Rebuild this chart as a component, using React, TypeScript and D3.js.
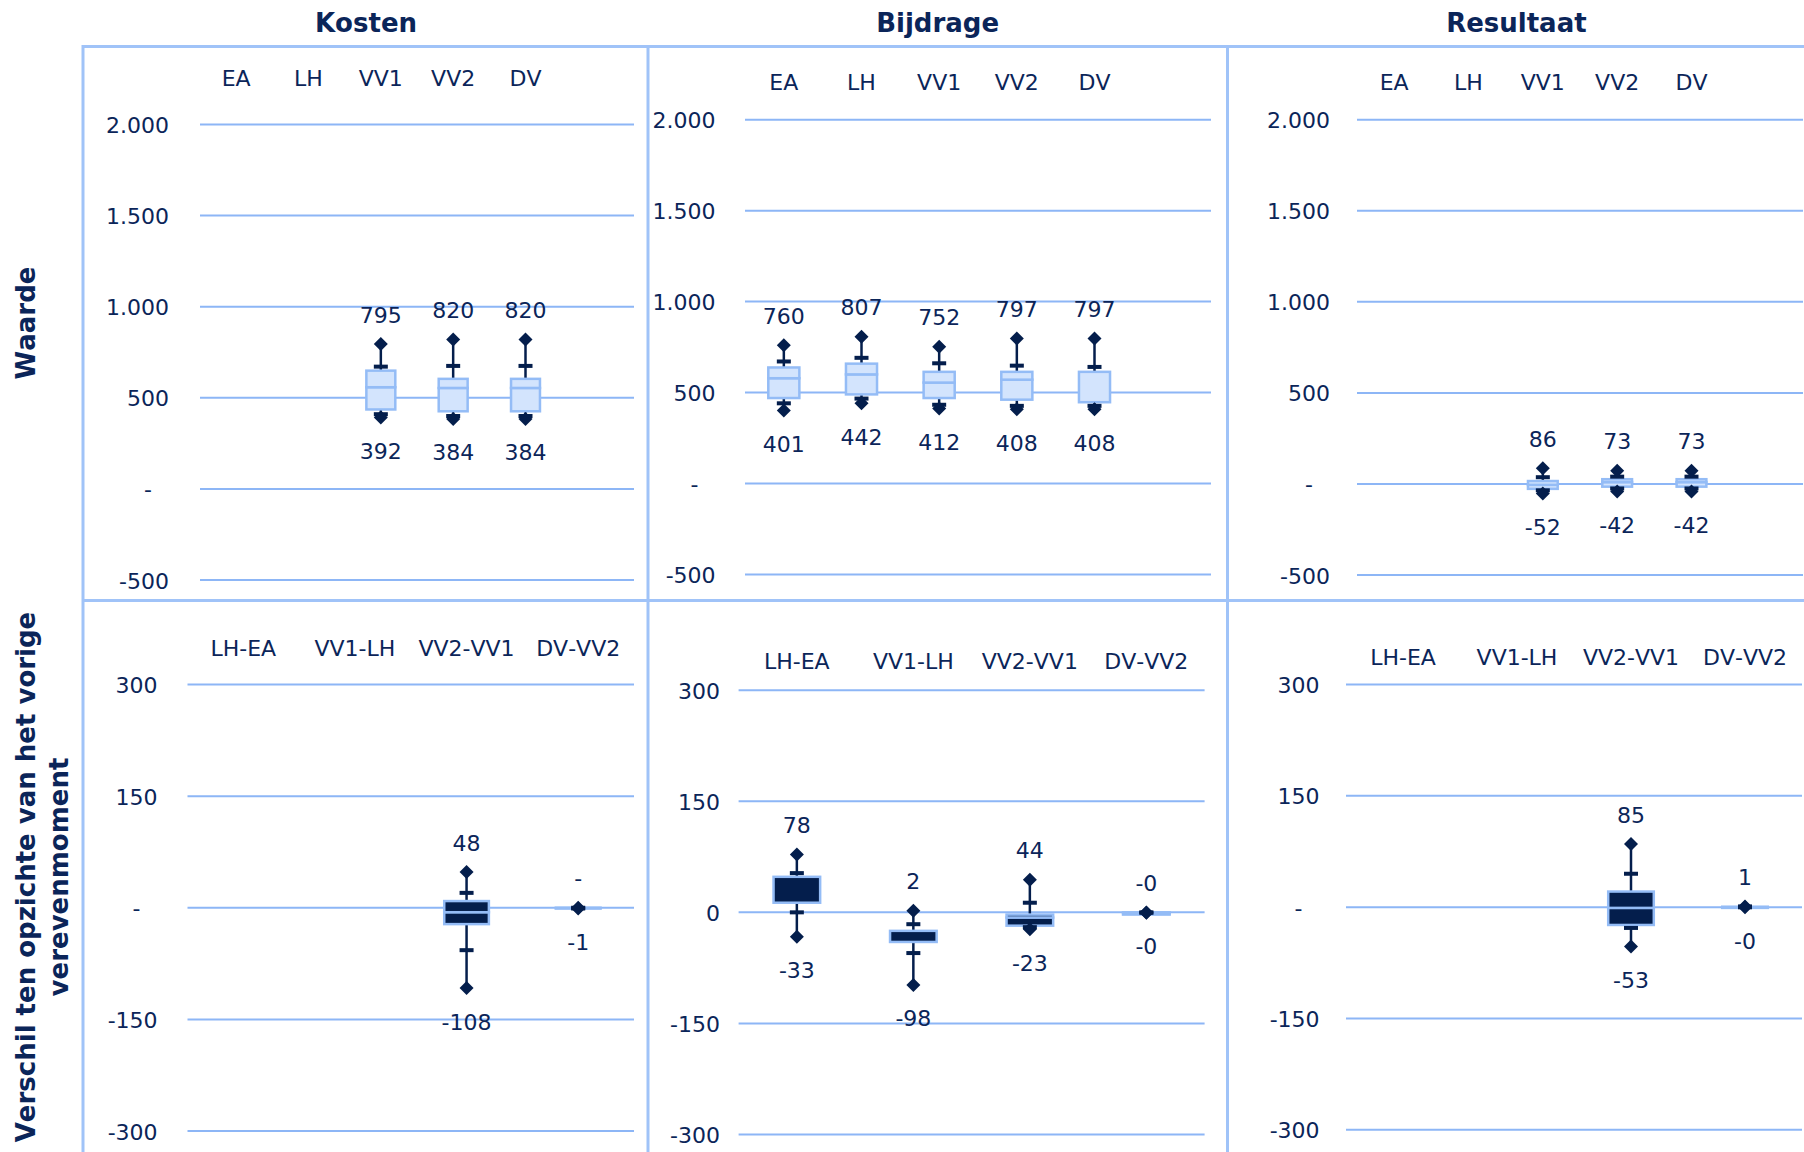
import React from 'react';
import * as d3 from 'd3';

const W = 1804;
const H = 1152;

const columnTitles = ['Kosten', 'Bijdrage', 'Resultaat'];
const rowTitleTop = ['Waarde'];
const rowTitleBottom = ['Verschil ten opzichte van het vorige', 'verevenmoment'];

const momentCategories = ['EA', 'LH', 'VV1', 'VV2', 'DV', ' '];
const diffCategories = ['LH-EA', 'VV1-LH', 'VV2-VV1', 'DV-VV2'];

const valueTicks = [2000, 1500, 1000, 500, 0, -500];
const diffTicks = [300, 150, 0, -150, -300];

// [min, p5, q1, median, q3, p95, max]
const kostenWaarde = [
  { cat: 'VV1', min: 392, p5: 410, q1: 436, med: 558, q3: 649, p95: 671, max: 795 },
  { cat: 'VV2', min: 384, p5: 400, q1: 426, med: 554, q3: 604, p95: 675, max: 820 },
  { cat: 'DV', min: 384, p5: 400, q1: 426, med: 554, q3: 604, p95: 675, max: 820 },
];
const bijdrageWaarde = [
  { cat: 'EA', min: 401, p5: 441, q1: 470, med: 579, q3: 638, p95: 671, max: 760 },
  { cat: 'LH', min: 442, p5: 467, q1: 490, med: 600, q3: 659, p95: 691, max: 807 },
  { cat: 'VV1', min: 412, p5: 433, q1: 470, med: 555, q3: 614, p95: 661, max: 752 },
  { cat: 'VV2', min: 408, p5: 427, q1: 461, med: 571, q3: 614, p95: 648, max: 797 },
  { cat: 'DV', min: 408, p5: 427, q1: 447, med: 614, q3: 614, p95: 641, max: 797 },
];
const resultaatWaarde = [
  { cat: 'VV1', min: -52, p5: -35, q1: -27, med: -5, q3: 16, p95: 37, max: 86 },
  { cat: 'VV2', min: -42, p5: -25, q1: -15, med: 10, q3: 26, p95: 40, max: 73 },
  { cat: 'DV', min: -42, p5: -25, q1: -15, med: 10, q3: 26, p95: 40, max: 73 },
];
const kostenVerschil = [
  { cat: 'VV2-VV1', min: -108, p5: -57, q1: -22, med: -6, q3: 9, p95: 20, max: 48 },
  { cat: 'DV-VV2', min: -1, p5: -1, q1: -1, med: -0.5, q3: 0, p95: 0, max: 0 },
];
const bijdrageVerschil = [
  { cat: 'LH-EA', min: -33, p5: 0, q1: 13, med: 48, q3: 48, p95: 53, max: 78 },
  { cat: 'VV1-LH', min: -98, p5: -55, q1: -40, med: -25, q3: -25, p95: -16, max: 2 },
  { cat: 'VV2-VV1', min: -23, p5: -20, q1: -18, med: -7, q3: -3, p95: 13, max: 44 },
  { cat: 'DV-VV2', min: -0.4, p5: -0.4, q1: -3, med: -1, q3: 0, p95: -0.2, max: -0.2 },
];
const resultaatVerschil = [
  { cat: 'VV2-VV1', min: -53, p5: -28, q1: -24, med: -1, q3: 21, p95: 45, max: 85 },
  { cat: 'DV-VV2', min: -0.2, p5: -0.2, q1: -1, med: 0, q3: 0.5, p95: 1, max: 1 },
];

const layout = [
  { row: 0, cats: momentCategories, data: kostenWaarde, ticks: valueTicks, zeroTick: '-', gx0: 200, gx1: 634, yTop: 124.5, yBot: 580, tickRight: 169, catY: 78.5 },
  { row: 0, cats: momentCategories, data: bijdrageWaarde, ticks: valueTicks, zeroTick: '-', gx0: 745, gx1: 1211, yTop: 119.7, yBot: 574.5, tickRight: 715.6, catY: 82.8 },
  { row: 0, cats: momentCategories, data: resultaatWaarde, ticks: valueTicks, zeroTick: '-', gx0: 1357, gx1: 1803, yTop: 119.7, yBot: 575, tickRight: 1330, catY: 82.8 },
  { row: 1, cats: diffCategories, data: kostenVerschil, ticks: diffTicks, zeroTick: '-', gx0: 187.5, gx1: 634, yTop: 684.5, yBot: 1131, tickRight: 157.6, catY: 648 },
  { row: 1, cats: diffCategories, data: bijdrageVerschil, ticks: diffTicks, zeroTick: '0', gx0: 738.6, gx1: 1204.6, yTop: 690.3, yBot: 1134.4, tickRight: 720, catY: 661.5 },
  { row: 1, cats: diffCategories, data: resultaatVerschil, ticks: diffTicks, zeroTick: '-', gx0: 1346, gx1: 1802, yTop: 684.5, yBot: 1129.8, tickRight: 1319.6, catY: 657 },
];

const TEXT = '#0b2559';
const NAVY = '#041e4c';
const LIGHT_FILL = '#d3e4fd';
const LIGHT_STROKE = '#94bcf6';
const GRID = '#8db6f6';
const BORDER = '#a0c3f8';
const FONT = '"DejaVu Sans", Verdana, sans-serif';

const nl = d3.formatLocale({ decimal: ',', thousands: '.', grouping: [3], currency: ['€', ''], minus: '-' });
const fmtInt = nl.format(',.0f');
function fmtLabel(v: number): string {
  if (v === 0) return '-';
  if (v < 0 && Math.round(v) === 0) return '-0';
  return fmtInt(v);
}

function Panel({ p }: { p: any }) {
  const x = d3.scaleBand().domain(p.cats).range([p.gx0, p.gx1]);
  const y = d3.scaleLinear().domain([p.ticks[p.ticks.length - 1], p.ticks[0]]).range([p.yBot, p.yTop]);
  const bw = x.bandwidth();
  const boxW = bw * 0.4;
  const capW = 14;
  const dia = 7;
  const dark = p.row === 1;
  return (
    <g>
      {p.ticks.map((t: number) => (
        <g key={t}>
          <line x1={p.gx0} x2={p.gx1} y1={y(t)} y2={y(t)} stroke={GRID} strokeWidth={2} />
          {t === 0 && p.zeroTick === '-' ? (
            <text x={p.tickRight - 21} y={y(t) + 1} textAnchor="middle" dominantBaseline="central" fontSize={22} fill={TEXT}>-</text>
          ) : (
            <text x={p.tickRight} y={y(t) + 1} textAnchor="end" dominantBaseline="central" fontSize={22} fill={TEXT}>
              {t === 0 ? p.zeroTick : nl.format(',')(t)}
            </text>
          )}
        </g>
      ))}
      {p.cats.map((c: string) => (
        <text key={c} x={(x(c) as number) + bw / 2} y={p.catY} textAnchor="middle" dominantBaseline="central" fontSize={22} fill={TEXT}>{c}</text>
      ))}
      {p.data.map((d: any) => {
        const cx = (x(d.cat) as number) + bw / 2;
        const seg = (a: number, b: number) => {
          const top = Math.min(y(a), y(b));
          const h = Math.abs(y(a) - y(b));
          return { y: top, h };
        };
        const lower = seg(d.q1, d.med);
        const upper = seg(d.med, d.q3);
        return (
          <g key={d.cat}>
            <line x1={cx} x2={cx} y1={y(d.max)} y2={y(d.min)} stroke={NAVY} strokeWidth={2.5} />
            <rect x={cx - boxW / 2} y={lower.y} width={boxW} height={lower.h} fill={dark ? NAVY : LIGHT_FILL} stroke={LIGHT_STROKE} strokeWidth={2.5} />
            <rect x={cx - boxW / 2} y={upper.y} width={boxW} height={upper.h} fill={dark ? NAVY : LIGHT_FILL} stroke={LIGHT_STROKE} strokeWidth={2.5} />
            <rect x={cx - capW / 2} y={y(d.p95) - 2} width={capW} height={4} fill={NAVY} />
            <rect x={cx - capW / 2} y={y(d.p5) - 2} width={capW} height={4} fill={NAVY} />
            <path d={`M${cx},${y(d.max) - dia}L${cx + dia},${y(d.max)}L${cx},${y(d.max) + dia}L${cx - dia},${y(d.max)}Z`} fill={NAVY} />
            <path d={`M${cx},${y(d.min) - dia}L${cx + dia},${y(d.min)}L${cx},${y(d.min) + dia}L${cx - dia},${y(d.min)}Z`} fill={NAVY} />
            <text x={cx} y={y(d.max) - 29} textAnchor="middle" dominantBaseline="central" fontSize={22} fill={TEXT}>{fmtLabel(d.max)}</text>
            <text x={cx} y={y(d.min) + 34} textAnchor="middle" dominantBaseline="central" fontSize={22} fill={TEXT}>{fmtLabel(d.min)}</text>
          </g>
        );
      })}
    </g>
  );
}

export default function App() {
  const colCenters = [366, 937.6, 1516.4];
  return (
    <svg width={W} height={H} style={{ position: 'absolute', left: 0, top: 0, background: '#fff', fontKerning: 'none' }} fontFamily={FONT}>
      <rect x={0} y={0} width={W} height={H} fill="#fff" />
      {columnTitles.map((t, i) => (
        <text key={t} x={colCenters[i]} y={32} textAnchor="middle" fontSize={26} fontWeight="bold" fill={TEXT}>{t}</text>
      ))}
      <text transform={`translate(35,323) rotate(-90)`} textAnchor="middle" fontSize={26} fontWeight="bold" fill={TEXT}>{rowTitleTop[0]}</text>
      <text transform={`translate(35,877) rotate(-90)`} textAnchor="middle" fontSize={26} fontWeight="bold" fill={TEXT}>{rowTitleBottom[0]}</text>
      <text transform={`translate(67.5,877) rotate(-90)`} textAnchor="middle" fontSize={26} fontWeight="bold" fill={TEXT}>{rowTitleBottom[1]}</text>
      {layout.map((p, i) => <Panel key={i} p={p} />)}
      <line x1={83} x2={W} y1={46.5} y2={46.5} stroke={BORDER} strokeWidth={3} />
      <line x1={83} x2={W} y1={600.5} y2={600.5} stroke={BORDER} strokeWidth={3} />
      {[83, 648, 1227.5].map((xv) => (
        <line key={xv} x1={xv} x2={xv} y1={45} y2={H} stroke={BORDER} strokeWidth={3} />
      ))}
    </svg>
  );
}
